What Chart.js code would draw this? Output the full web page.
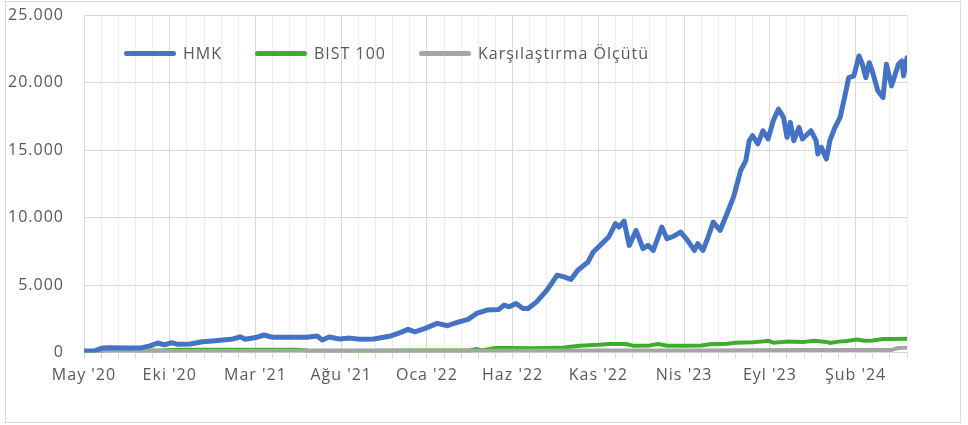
<!DOCTYPE html>
<html lang="tr">
<head>
<meta charset="utf-8">
<script src="https://cdn.jsdelivr.net/npm/chart.js@4"></script>
<style>
  body { margin: 0; background: #fff; }
  #kutu { position: relative; width: 968px; height: 425px; }
  #cerceve { position: absolute; left: 5px; top: 1px; width: 954px; height: 420px; border: 1px solid #d9d9d9; }
  #grafik { position: absolute; left: 0; top: 0; }
  #lejant { position: absolute; left: 124px; top: 42px; display: flex; gap: 33px;
            font: 16px "Open Sans", sans-serif; letter-spacing: 1px; color: #595959; }
  #lejant .oge { display: flex; align-items: center; }
  #lejant .cizgi { width: 52px; height: 5px; border-radius: 3px; margin-right: 7px; }
</style>
</head>
<body>
<div id="kutu">
  <div id="cerceve"></div>
  <canvas id="grafik" width="968" height="425"></canvas>
  <div id="lejant"></div>
</div>
<script>
// Eksen etiketleri (her 5 ayda bir, ay 0 = Mayıs 2020)
const ayEtiketleri = ["May '20", "Eki '20", "Mar '21", "Ağu '21", "Oca '22", "Haz '22", "Kas '22", "Nis '23", "Eyl '23", "Şub '24"];

// HMK
const hmkAylar = [0, 0.6, 1.1, 1.5, 2.5, 3.4, 3.9, 4.3, 4.7, 5.1, 5.5, 6.2, 6.9, 7.5, 8.1, 8.7, 9.1, 9.4, 10, 10.5, 11, 12, 13, 13.6, 13.9, 14.3, 14.9, 15.5, 16.1, 16.9, 17.4, 17.9, 18.4, 18.9, 19.3, 19.9, 20.6, 21.2, 21.7, 22.4, 22.9, 23.5, 24.2, 24.5, 24.8, 25.2, 25.6, 25.9, 26.4, 27, 27.6, 28, 28.4, 28.8, 29.4, 29.7, 30.1, 30.6, 31, 31.2, 31.5, 31.8, 32.2, 32.6, 32.9, 33.2, 33.7, 34, 34.4, 34.8, 35.2, 35.6, 35.8, 36.1, 36.4, 36.7, 37.1, 37.5, 37.9, 38.3, 38.6, 38.8, 39, 39.3, 39.6, 39.9, 40.2, 40.5, 40.8, 41, 41.2, 41.4, 41.7, 41.9, 42.4, 42.7, 42.8, 43, 43.3, 43.5, 43.8, 44.1, 44.4, 44.6, 44.9, 45.2, 45.4, 45.6, 45.8, 46, 46.3, 46.6, 46.8, 47.1, 47.5, 47.7, 47.8, 48];
const hmkDegerler = [100, 120, 330, 350, 330, 350, 500, 700, 560, 720, 600, 620, 790, 850, 920, 1000, 1160, 970, 1100, 1290, 1120, 1120, 1120, 1220, 920, 1140, 1000, 1060, 970, 990, 1100, 1220, 1450, 1710, 1530, 1780, 2150, 1980, 2200, 2450, 2890, 3140, 3190, 3510, 3380, 3630, 3260, 3260, 3750, 4620, 5730, 5600, 5410, 6100, 6710, 7450, 7940, 8560, 9550, 9300, 9740, 7940, 9050, 7700, 7940, 7570, 9300, 8440, 8620, 8930, 8310, 7570, 8070, 7570, 8560, 9670, 9050, 10290, 11600, 13500, 14230, 15710, 16080, 15470, 16450, 15840, 17190, 18050, 17440, 15960, 17070, 15710, 16700, 15840, 16450, 15710, 14730, 15220, 14360, 15710, 16700, 17440, 19160, 20390, 20520, 22000, 21380, 20390, 21500, 20760, 19410, 18910, 21380, 19780, 21380, 21630, 20520, 21870];

// BIST 100
const bistAylar = [0, 1, 1.5, 2.5, 3, 4.5, 5.5, 7, 9, 12.5, 13, 16, 19, 22.5, 22.9, 23.2, 24, 25, 26, 27, 28, 28.9, 30, 30.7, 31.6, 32, 33, 33.5, 34, 35, 36, 36.5, 37.5, 38, 39, 39.5, 39.9, 40.2, 41, 42, 42.6, 43.3, 43.5, 44, 44.5, 45.1, 45.5, 46, 46.6, 47, 48];
const bistDegerler = [100, 110, 200, 200, 150, 150, 200, 190, 200, 190, 140, 130, 140, 150, 260, 150, 320, 330, 300, 330, 360, 500, 560, 620, 620, 500, 520, 620, 500, 500, 520, 600, 640, 720, 760, 800, 870, 720, 800, 780, 870, 780, 700, 800, 850, 960, 860, 880, 1000, 1000, 1010];

// Karşılaştırma Ölçütü
const olcutAylar = [0, 6, 12, 18, 24, 30, 36, 42, 47.1, 47.5, 48];
const olcutDegerler = [100, 110, 115, 120, 125, 135, 150, 170, 185, 330, 350];

const yaziRengi = '#595959';

function noktalar(aylar, degerler) {
    return aylar.map((a, i) => ({ x: a, y: degerler[i] }));
}

function binlik(v) {
    return String(v).replace(/\B(?=(\d{3})+(?!\d))/g, '.');
}

// Harf aralığı (Excel görünümüne yakın olsun diye)
const harfAraligi = {
    id: 'harfAraligi',
    beforeDraw(chart) { chart.ctx.letterSpacing = '1px'; },
    beforeDatasetsDraw(chart) { chart.ctx.letterSpacing = '0px'; }
};

const ctx = document.getElementById('grafik').getContext('2d');
const grafik = new Chart(ctx, {
    type: 'line',
    data: {
        datasets: [
            { label: 'HMK', data: noktalar(hmkAylar, hmkDegerler), borderColor: '#4472C4', borderWidth: 5, order: 0 },
            { label: 'BIST 100', data: noktalar(bistAylar, bistDegerler), borderColor: '#3DAE2B', borderWidth: 4, order: 2 },
            { label: 'Karşılaştırma Ölçütü', data: noktalar(olcutAylar, olcutDegerler), borderColor: '#A5A5A5', borderWidth: 4, order: 1 }
        ]
    },
    options: {
        responsive: false,
        animation: false,
        parsing: false,
        layout: { padding: { left: 0, top: 15.5, right: 61, bottom: 0 } },
        elements: {
            point: { radius: 0 },
            line: { tension: 0, borderJoinStyle: 'round', borderCapStyle: 'round' }
        },
        plugins: {
            legend: { display: false },
            tooltip: { enabled: false }
        },
        scales: {
            x: {
                type: 'linear',
                min: 0,
                max: 48,
                afterFit: s => { s.height = 72.6; s.paddingLeft = 0; s.paddingRight = 0; },
                grid: {
                    color: c => (c.tick && c.tick.value % 5 === 0) ? '#d9d9d9' : '#eeeeee',
                    tickLength: 6,
                    tickColor: '#d9d9d9'
                },
                border: { display: false },
                ticks: {
                    stepSize: 1,
                    autoSkip: false,
                    maxRotation: 0,
                    padding: 7,
                    color: yaziRengi,
                    font: { family: 'Open Sans', size: 16 },
                    callback: v => (v % 5 === 0 && ayEtiketleri[v / 5]) ? ayEtiketleri[v / 5] : ''
                }
            },
            y: {
                min: 0,
                max: 25000,
                afterFit: s => { s.width = 84; s.paddingTop = 0; s.paddingBottom = 0; },
                grid: { color: '#d9d9d9', drawTicks: false },
                border: { display: false },
                ticks: {
                    stepSize: 5000,
                    padding: 20,
                    color: yaziRengi,
                    font: { family: 'Open Sans', size: 16 },
                    callback: v => binlik(v)
                }
            }
        }
    },
    plugins: [harfAraligi]
});

// HTML lejant, veri setlerinden üretilir
const lejant = document.getElementById('lejant');
grafik.data.datasets.forEach(ds => {
    const oge = document.createElement('div');
    oge.className = 'oge';
    const cizgi = document.createElement('span');
    cizgi.className = 'cizgi';
    cizgi.style.background = ds.borderColor;
    const yazi = document.createElement('span');
    yazi.textContent = ds.label;
    oge.appendChild(cizgi);
    oge.appendChild(yazi);
    lejant.appendChild(oge);
});
</script>
</body>
</html>
